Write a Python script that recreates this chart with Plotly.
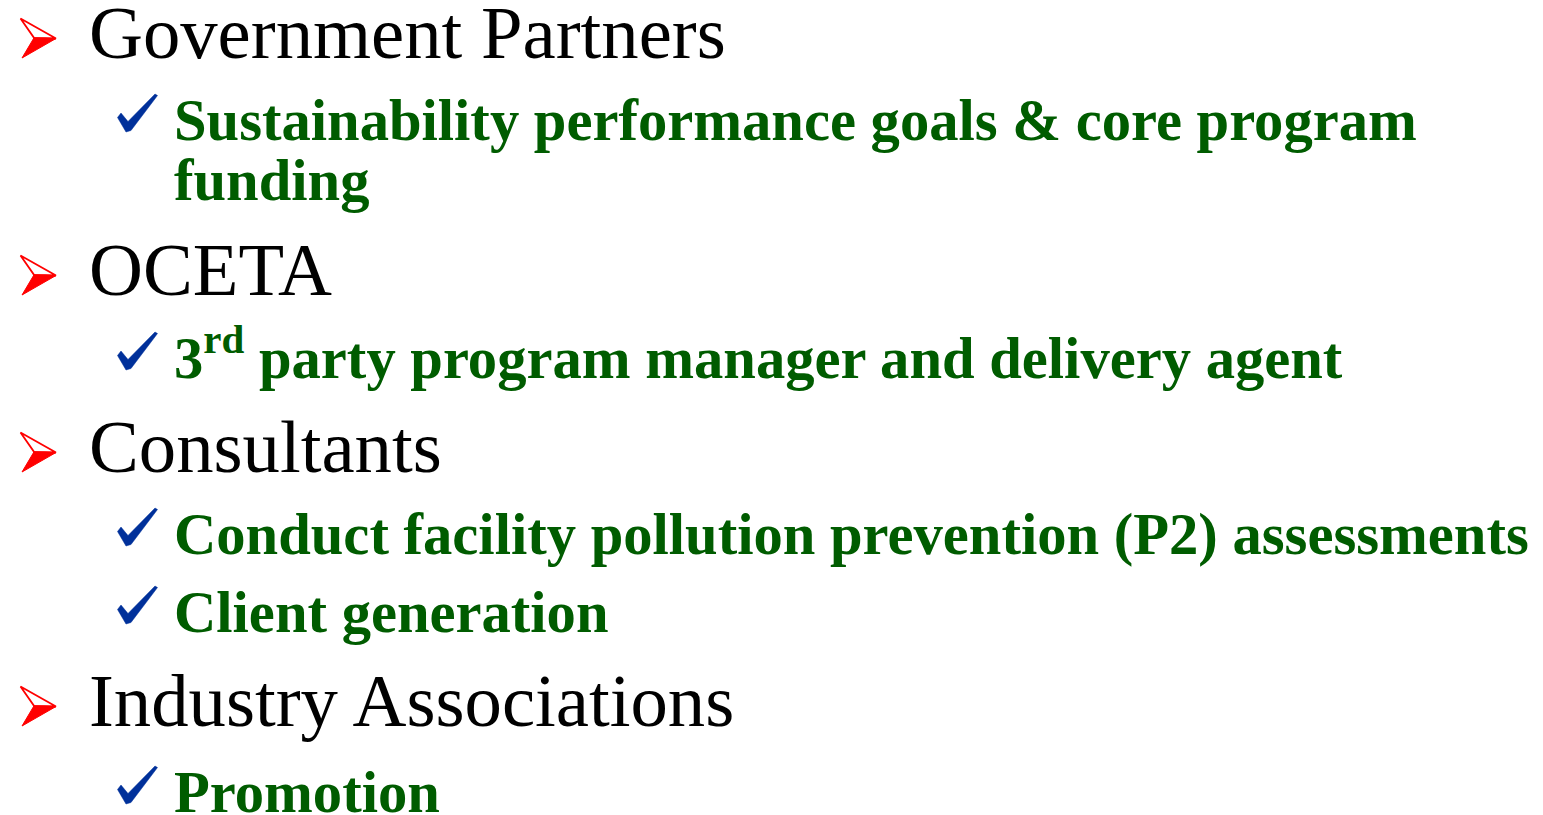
import plotly.graph_objects as go

# ---- content ----
headings = ["Government Partners", "OCETA", "Consultants", "Industry Associations"]
# each heading has a list of checked items; each item is a list of wrapped lines
details = [
    [["Sustainability performance goals & core program", "funding"]],
    [["3<sup>rd</sup> party program manager and delivery agent"]],
    [["Conduct facility pollution prevention (P2) assessments"], ["Client generation"]],
    [["Promotion"]],
]

# ---- layout (pixel positions of text baselines, in reading order) ----
row_baselines = [58, 140, 200, 295, 378, 472, 554, 632, 726, 812]

W, H = 1543, 815
HEAD_SIZE, SUB_SIZE = 74.7, 58.6
HEAD_X, SUB_X = 88, 173
SERIF = "Liberation Serif, Times New Roman, serif"
GREEN = "#005C00"
BLUE = "#00309A"
RED = "#FF0000"
MID = 0.3375  # Liberation Serif: (ascent - descent)/2 in em, baseline -> box middle

fig = go.Figure()
annotations = []
shapes = []


def arrow_path(tx, ty):
    # 3D arrowhead bullet: tip at (tx, ty)
    tl = (tx - 35.5, ty - 20)
    notch = (tx - 22, ty - 0.7)
    bl = (tx - 34, ty + 19.5)
    upper = f"M{tl[0]},{tl[1]} L{tx},{ty} L{notch[0]},{notch[1]} Z"
    lower = f"M{notch[0]},{notch[1]} L{tx},{ty} L{bl[0]},{bl[1]} Z"
    return upper, lower


def check_path(bx, by):
    pts = [(-9.5, -14), (-6, -18.5), (1, -10), (28, -37.5), (30.5, -36), (4, -1), (-1, 0.5)]
    d = "M" + " L".join(f"{bx + dx},{by + dy}" for dx, dy in pts) + " Z"
    return d


row = 0
for head, items in zip(headings, details):
    base = row_baselines[row]
    annotations.append(dict(
        x=HEAD_X, y=base - MID * HEAD_SIZE, xref="x", yref="y",
        xanchor="left", yanchor="middle", showarrow=False, borderpad=0,
        text=head, font=dict(family=SERIF, size=HEAD_SIZE, color="black"),
    ))
    up, lo = arrow_path(56, base - 19.5)
    shapes.append(dict(type="path", path=up, xref="x", yref="y",
                       fillcolor="white", line=dict(color=RED, width=1.8)))
    shapes.append(dict(type="path", path=lo, xref="x", yref="y",
                       fillcolor=RED, line=dict(color=RED, width=1)))
    row += 1
    for item in items:
        for li, line in enumerate(item):
            base = row_baselines[row]
            annotations.append(dict(
                x=SUB_X, y=base - MID * SUB_SIZE, xref="x", yref="y",
                xanchor="left", yanchor="middle", showarrow=False, borderpad=0,
                yshift=5 if "<sup>" in line else 0,
                text=f"<b>{line}</b>", font=dict(family=SERIF, size=SUB_SIZE, color=GREEN),
            ))
            if li == 0:
                shapes.append(dict(type="path", path=check_path(127, base - 8.5),
                                   xref="x", yref="y", fillcolor=BLUE,
                                   line=dict(color=BLUE, width=0.5)))
            row += 1

fig.update_layout(
    width=W, height=H,
    margin=dict(l=0, r=0, t=0, b=0),
    paper_bgcolor="white", plot_bgcolor="white",
    xaxis=dict(range=[0, W], visible=False, fixedrange=True),
    yaxis=dict(range=[H, 0], visible=False, fixedrange=True),
    annotations=annotations, shapes=shapes, showlegend=False,
)

fig.write_html("out.html", config={"displayModeBar": False},
               post_script="document.body.style.margin='0';document.body.style.overflow='hidden';")
